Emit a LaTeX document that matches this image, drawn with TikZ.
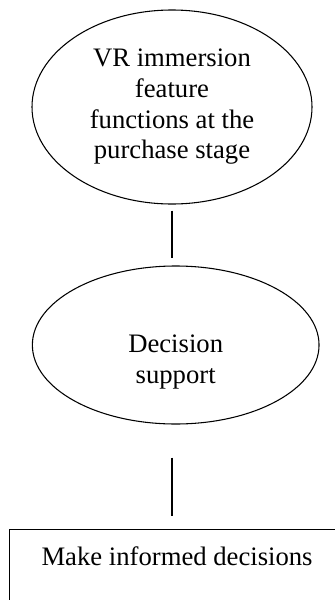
\documentclass[tikz,border=0pt]{standalone}
\usepackage{fontspec}
\setmainfont{Liberation Serif}
\usetikzlibrary{shapes.geometric}

\tikzset{
  oval/.style={draw, ellipse, line width=0.8pt, inner sep=0pt, align=center},
  link/.style={draw, line width=0.8pt}
}

\begin{document}
\begin{tikzpicture}[x=0.75pt, y=-0.75pt, font=\fontsize{20pt}{23pt}\selectfont]

\clip (0,0) rectangle (335,600);
\useasboundingbox (0,0) rectangle (335,600);

% Feature functions
\node[oval, minimum width=210pt, minimum height=145.5pt] (feat) at (172,107)
  {VR immersion\\feature\\functions at the\\purchase stage};

% Decision support
\node[oval, minimum width=215pt, minimum height=118.5pt] (dec) at (175.7,345) {};
\node[align=center] (dectext) at ([yshift=-12.75pt]dec.center) {Decision\\support};

% Outcome
\node[draw, line width=0.8pt, anchor=north west, inner xsep=24pt, inner ysep=0pt,
  text height=27pt, text depth=60pt] (box) at (9,529) {Make informed decisions};

% Links
\draw[link, shorten <=4.5pt, shorten >=5.25pt] (feat.south) -- (feat.south |- dec.north);
\draw[link, shorten <=24.75pt, shorten >=9.75pt] (dec.south -| feat.south) -- (box.north -| feat.south);

\end{tikzpicture}
\end{document}
